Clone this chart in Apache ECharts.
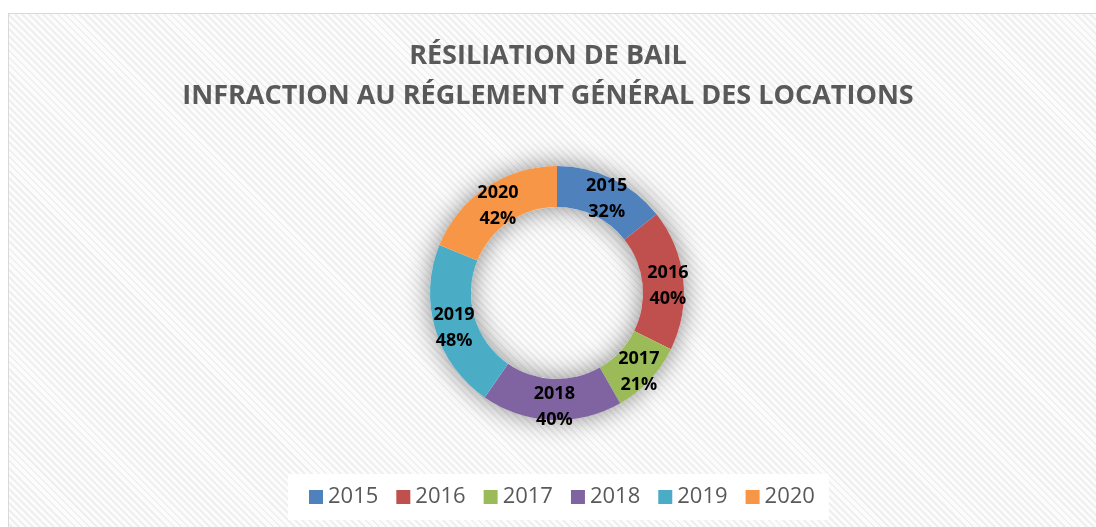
<!DOCTYPE html>
<html>
<head>
<meta charset="utf-8">
<script src="https://cdn.jsdelivr.net/npm/echarts@6/dist/echarts.min.js"></script>
<style>
  html, body { margin: 0; padding: 0; background: #fff; }
  #bg {
    position: absolute; left: 8px; top: 13px; width: 1100px; height: 530px;
    border: 1px solid #d9d9d9;
    background: repeating-linear-gradient(45deg, #fcfcfc 0px, #fcfcfc 3px, #efefef 3px, #efefef 5px);
  }
  #chart { position: absolute; left: 0; top: 0; width: 1096px; height: 527px; }
</style>
</head>
<body>
<div id="bg"></div>
<div id="chart"></div>
<script>
	var years = ['2015', '2016', '2017', '2018', '2019', '2020'];
	var values = [32, 40, 21, 40, 48, 42];
	var colors = ['#4F81BD', '#C0504D', '#9BBB59', '#8064A2', '#4BACC6', '#F79646'];
	var titleLines = ['RÉSILIATION DE BAIL', 'INFRACTION AU RÉGLEMENT GÉNÉRAL DES LOCATIONS'];

	var myChart = echarts.init(document.getElementById('chart'));

	var pieData = [];
	for (var i = 0; i < years.length; i++) {
		pieData.push({ name: years[i], value: values[i] });
	}

	var option = {
		color: colors,
		title: {
			text: titleLines.join('\n'),
			left: 'center',
			top: 31,
			textStyle: {
				fontFamily: 'Open Sans',
				fontWeight: 'bold',
				fontSize: 27,
				lineHeight: 40,
				color: '#595959'
			}
		},
		legend: {
			data: years,
			bottom: 7,
			left: 288,
			icon: 'rect',
			itemWidth: 14,
			itemHeight: 14,
			itemGap: 18,
			padding: [12, 14, 12, 21],
			backgroundColor: '#ffffff',
			textStyle: {
				fontFamily: 'Open Sans',
				fontSize: 22,
				color: '#595959'
			}
		},
		series: [
			{
				// shadow ring under the donut
				type: 'pie',
				silent: true,
				center: [557, 293],
				radius: [86, 127],
				label: { show: false },
				itemStyle: {
					color: '#ffffff',
					shadowBlur: 26,
					shadowColor: 'rgba(0,0,0,0.45)'
				},
				data: [{ name: 'shadow', value: 1 }],
				z: 1
			},
			{
				type: 'pie',
				center: [557, 293],
				radius: [86, 127],
				startAngle: 90,
				clockwise: true,
				avoidLabelOverlap: false,
				label: {
					show: true,
					position: 'inside',
					formatter: '{b}\n{c}%',
					fontFamily: 'Open Sans',
					fontWeight: 'bold',
					fontSize: 18,
					lineHeight: 26,
					color: '#000000',
					offset: [2, 4]
				},
				labelLine: { show: false },
				emphasis: { disabled: true },
				data: pieData,
				z: 2
			}
		]
	};
	myChart.setOption(option);
</script>
</body>
</html>
